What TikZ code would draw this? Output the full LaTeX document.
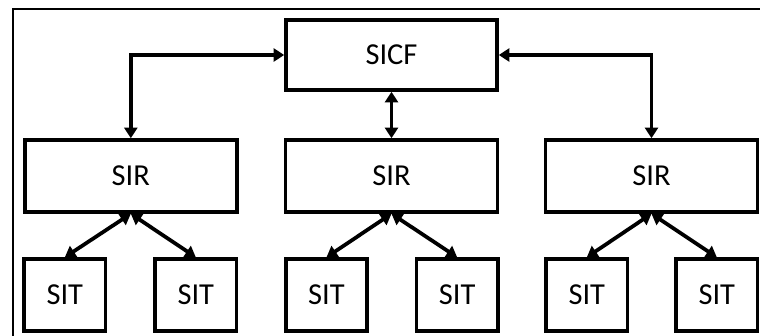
\documentclass[tikz,border=0pt]{standalone}
\usepackage{fontspec}
\setmainfont{Carlito}
\usetikzlibrary{arrows.meta}
\tikzstyle{hub} = [rectangle, draw, line width=3pt, text centered, minimum width=6.33cm, minimum height=2.1cm]
\tikzstyle{relay} = [rectangle, draw, line width=3pt, text centered, minimum width=6.36cm, minimum height=2.16cm]
\tikzstyle{terminal} = [rectangle, draw, line width=3pt, text centered, minimum width=2.44cm, minimum height=2.16cm]
\tikzstyle{connector} = [line width=3.2pt, {Triangle[length=9pt,width=11pt]}-{Triangle[length=9pt,width=11pt]}]

\begin{document}
\begin{tikzpicture}[font=\fontsize{26}{30}\selectfont]
            \useasboundingbox (-11.745,-8.43) rectangle (11.055,1.65);
            \draw [line width=2pt] (-11.355,-8.43) |- (11.055,1.38);
            \node (sicf) [hub] {SICF};
            \node (sirB) [relay, below of = sicf, yshift = -2.63cm] {SIR};
            \node (sirA) [relay, left of = sirB, xshift = -6.82cm] {SIR};
            \node (sirC) [relay, right of = sirB, xshift = 6.8cm] {SIR};
            \node (sitA1) [terminal, below of = sirA, xshift = -1.98cm, yshift = -2.57cm] {SIT};
            \node (sitA2) [terminal, below of = sirA, xshift = 1.95cm, yshift = -2.57cm] {SIT};
            \node (sitB1) [terminal, below of = sirB, xshift = -1.95cm, yshift = -2.57cm] {SIT};
            \node (sitB2) [terminal, below of = sirB, xshift = 1.97cm, yshift = -2.57cm] {SIT};
            \node (sitC1) [terminal, below of = sirC, xshift = -1.94cm, yshift = -2.57cm] {SIT};
            \node (sitC2) [terminal, below of = sirC, xshift = 1.96cm, yshift = -2.57cm] {SIT};
            \draw [connector] (sicf.west) -| (sirA.north);
            \draw [connector] (sicf) -- (sirB);
            \draw [connector] (sicf.east) -| (sirC.north);
            \draw [connector] (sirA.south) -- (sitA1.north);
            \draw [connector] (sirA.south) -- (sitA2.north);
            \draw [connector] (sirB.south) -- (sitB1.north);
            \draw [connector] (sirB.south) -- (sitB2.north);
            \draw [connector] (sirC.south) -- (sitC1.north);
            \draw [connector] (sirC.south) -- (sitC2.north);
        \end{tikzpicture}
\end{document}
